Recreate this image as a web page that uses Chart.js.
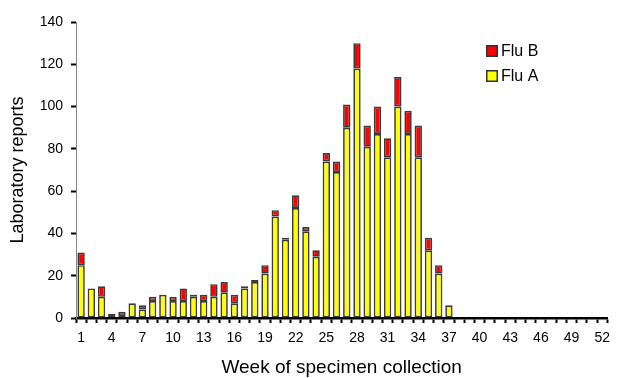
<!DOCTYPE html>
<html>
<head>
<meta charset="utf-8">
<script src="https://cdn.jsdelivr.net/npm/chart.js@4/dist/chart.umd.min.js"></script>
<style>
html,body{margin:0;padding:0;background:#fff;}
#wrap{width:617px;height:378px;position:relative;}
</style>
</head>
<body>
<div id="wrap"><canvas id="c" width="617" height="378"></canvas></div>
<script>
const weeks = ['1','2','3','4','5','6','7','8','9','10','11','12','13','14','15','16','17','18','19','20','21','22','23','24','25','26','27','28','29','30','31','32','33','34','35','36','37','38','39','40','41','42','43','44','45','46','47','48','49','50','51','52'];
const fluA = [25,14,10,1,1,7,4,8,11,8,8,10,8,10,12,7,14,17,21,48,37,52,41,29,74,69,90,118,81,87,76,100,87,76,32,21,6,0,0,0,0,0,0,0,0,0,0,0,0,0,0,0];
const fluB = [6,0,5,1,2,0,2,2,0,2,6,1,3,6,5,4,1,1,4,3,1,6,2,3,4,5,11,12,10,13,9,14,11,15,6,4,0,0,0,0,0,0,0,0,0,0,0,0,0,0,0,0];
const yTicks = [0,20,40,60,80,100,120,140];

const FONT = 'Liberation Sans, Arial, sans-serif';

const legendPlugin = {
  id: 'insideLegend',
  afterDraw(chart) {
    const ctx = chart.ctx;
    const ds = chart.data.datasets.slice().reverse();
    ctx.save();
    ds.forEach((d, i) => {
      const x = 486, y = 45 + i * 25;
      ctx.fillStyle = d.backgroundColor;
      ctx.fillRect(x, y, 12, 12);
      ctx.strokeStyle = '#333';
      ctx.lineWidth = 1.5;
      ctx.strokeRect(x + 0.75, y + 0.75, 10.5, 10.5);
      ctx.fillStyle = '#000';
      ctx.font = '16px ' + FONT;
      ctx.textBaseline = 'middle';
      ctx.textAlign = 'left';
      ctx.fillText(d.label, x + 15, y + 7);
    });
    ctx.restore();
  }
};

new Chart(document.getElementById('c'), {
  type: 'bar',
  data: {
    labels: weeks,
    datasets: [
      { label: 'Flu A', data: fluA, backgroundColor: '#ffff00', borderColor: '#3a3a3a', borderWidth: 1.7, borderSkipped: false, barPercentage: 0.72, categoryPercentage: 1 },
      { label: 'Flu B', data: fluB, backgroundColor: '#ff0000', borderColor: '#3a3a3a', borderWidth: 1.7, borderSkipped: false, barPercentage: 0.72, categoryPercentage: 1 }
    ]
  },
  options: {
    responsive: false,
    animation: false,
    layout: { padding: { left: 0, right: 3, top: 22, bottom: 0 } },
    plugins: { legend: { display: false }, tooltip: { enabled: false } },
    scales: {
      x: {
        stacked: true,
        afterFit(s) { s.height = 60; },
        grid: { display: true, drawOnChartArea: false, drawTicks: true, tickLength: 5, tickColor: '#000', tickWidth: 2, offset: true },
        border: { display: true, color: '#000', width: 2.5 },
        ticks: {
          autoSkip: false, maxRotation: 0, minRotation: 0, padding: 7,
          color: '#000', font: { family: FONT, size: 14 },
          callback(v, i) { return i % 3 === 0 ? weeks[i] : ''; }
        },
        title: { display: true, text: 'Week of specimen collection', color: '#000', font: { family: FONT, size: 19 }, padding: { top: 0, bottom: -1 } }
      },
      y: {
        stacked: true,
        min: 0, max: 140,
        afterFit(s) { s.width = 76; },
        afterBuildTicks(s) { s.ticks = yTicks.map(v => ({ value: v })); },
        grid: { display: true, drawOnChartArea: false, drawTicks: true, tickLength: 5, tickColor: '#000', tickWidth: 2 },
        border: { display: true, color: '#888', width: 1 },
        ticks: { padding: 8, color: '#000', font: { family: FONT, size: 14 } },
        title: { display: true, text: 'Laboratory reports', color: '#000', font: { family: FONT, size: 18 }, padding: { top: 7, bottom: 0 } }
      }
    }
  },
  plugins: [legendPlugin]
});
</script>
</body>
</html>
